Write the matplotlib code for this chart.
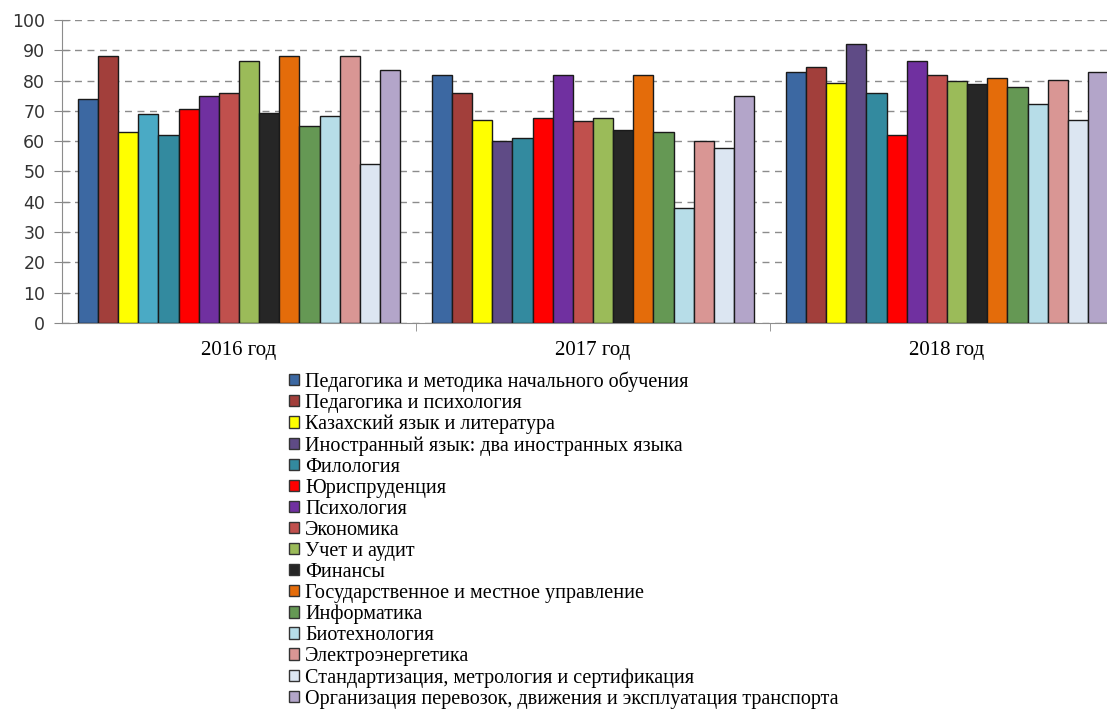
import numpy as np
import matplotlib
matplotlib.use('Agg')
import matplotlib.pyplot as plt

years = ['2016 год', '2017 год', '2018 год']

specialties = [
    'Педагогика и методика начального обучения',
    'Педагогика и психология',
    'Казахский язык и литература',
    'Иностранный язык: два иностранных языка',
    'Филология',
    'Юриспруденция',
    'Психология',
    'Экономика',
    'Учет и аудит',
    'Финансы',
    'Государственное и местное управление',
    'Информатика',
    'Биотехнология',
    'Электроэнергетика',
    'Стандартизация, метрология и сертификация',
    'Организация перевозок, движения и эксплуатация транспорта',
]

# values per specialty: [2016, 2017, 2018]
values = [
    [74, 82, 83],
    [88, 76, 84.5],
    [63, 67, 79.3],
    [69, 60.2, 92.2],
    [62, 61, 76],
    [70.7, 67.8, 62.2],
    [74.8, 82, 86.6],
    [75.8, 66.8, 82],
    [86.5, 67.7, 80],
    [69.3, 63.8, 79],
    [88, 82, 80.9],
    [65.1, 63.1, 77.9],
    [68.2, 37.8, 72.3],
    [88, 60.1, 80.3],
    [52.5, 57.6, 66.9],
    [83.4, 74.8, 82.9],
]

colors = [
    '#3c68a2', '#a23f3b', '#ffff00', '#5f4b86', '#338a9f', '#ff0000',
    '#7030a0', '#c0504d', '#9bbb59', '#262626', '#e46c0a', '#659854',
    '#b7dde8', '#d99694', '#dce6f2', '#b3a5c9',
]
# in 2016 the 4th bar was drawn in a lighter teal
color_2016_4th = '#4aaac5'

plt.rcParams['font.family'] = ['Liberation Serif', 'DejaVu Serif']

fig = plt.figure(figsize=(11.07, 7.09), dpi=100)
ax = fig.add_axes([62 / 1107, 1 - 323 / 709, 1062 / 1107, 303 / 709])

n = len(specialties)
x = np.arange(len(years))
width = 0.91 / n
handles = []
for i, (name, vals) in enumerate(zip(specialties, values)):
    pos = x - 0.455 + width * (i + 0.5)
    cols = [colors[i]] * len(years)
    if i == 3:
        cols[0] = color_2016_4th
    ax.bar(pos, vals, width=width, color=cols, edgecolor='#1a1a1a',
           linewidth=1.0, zorder=3)
    h = plt.Rectangle((0, 0), 1, 1, facecolor=colors[i], edgecolor='#333333', linewidth=1.0)
    handles.append(h)

ax.set_xlim(-0.5, 2.5)
ax.set_ylim(0, 100)
ax.set_yticks(range(0, 101, 10))
ax.set_xticks(x)
ax.set_xticklabels(years, fontsize=15)
ax.set_xticks([0.5, 1.5], minor=True)
ax.tick_params(axis='x', which='major', length=0, pad=13)
ax.tick_params(axis='x', which='minor', length=6, color='#888888', direction='out')
ax.tick_params(axis='y', length=12, color='#888888', direction='inout', pad=6)
for lab in ax.get_yticklabels():
    lab.set_fontfamily('DejaVu Sans')
    lab.set_fontsize(12.5)
    lab.set_color('#333333')

ax.yaxis.grid(True, linestyle=(0, (5, 4)), color='#8c8c8c', linewidth=1.0, zorder=0)
ax.set_axisbelow(True)
for s in ['top', 'right']:
    ax.spines[s].set_visible(False)
for s in ['left', 'bottom']:
    ax.spines[s].set_color('#8c8c8c')

fig.legend(handles, specialties, loc='upper left',
           bbox_to_anchor=(289 / 1107, 1 - 371 / 709),
           bbox_transform=fig.transFigure, frameon=False, fontsize=14.5,
           borderpad=0, borderaxespad=0, handlelength=0.5, handleheight=0.5,
           handletextpad=0.3, labelspacing=0.1)

fig.savefig('out.png', dpi=100)
